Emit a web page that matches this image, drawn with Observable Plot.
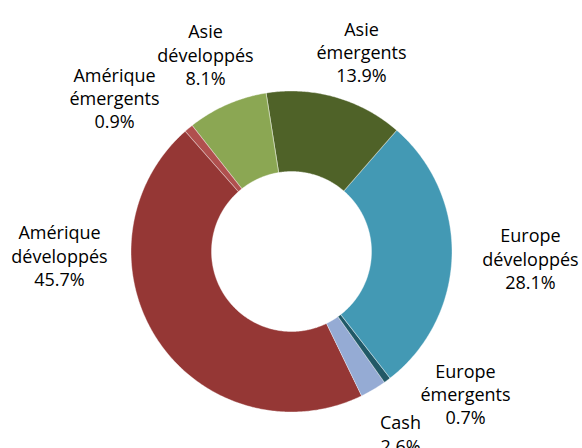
<!DOCTYPE html>
<html>
<head>
<meta charset="utf-8">
<script src="https://cdn.jsdelivr.net/npm/d3@7"></script>
<script src="https://cdn.jsdelivr.net/npm/@observablehq/plot@0.6"></script>
<style>
  html, body { margin: 0; padding: 0; background: #fff; }
  #chart svg { display: block; }
</style>
</head>
<body>
<div id="chart"></div>
<script>
// Data
const names = ["Amérique développés", "Amérique émergents", "Asie développés", "Asie émergents", "Europe développés", "Europe émergents", "Cash"];
const labelLines = ["Amérique\ndéveloppés", "Amérique\némergents", "Asie\ndéveloppés", "Asie\némergents", "Europe\ndéveloppés", "Europe\némergents", "Cash"];
const values = [45.7, 0.9, 8.1, 13.9, 28.1, 0.7, 2.6];
const colors = ["#953735", "#b0504e", "#8ba753", "#4f6228", "#4399b4", "#215967", "#95abd4"];
// label anchor points in pixels (layout)
const labelPx = [[59, 222], [114, 64.5], [205, 21], [361, 18.5], [530, 225], [465, 360.5], [400, 412]];

// Layout
const W = 582, H = 448;
const cx = 291, cy = 251, R = 160.5, rInner = 80 / 160.5;
const startDeg = 154.1;

const pie = d3.pie().sort(null).value(d => d.value)
  .startAngle(startDeg * Math.PI / 180)
  .endAngle(startDeg * Math.PI / 180 + 2 * Math.PI);
const arcs = pie(names.map((n, i) => ({name: n, value: values[i]})));

const pts = [];
arcs.forEach(a => {
  const n = Math.max(4, Math.ceil((a.endAngle - a.startAngle) / 0.01));
  for (let k = 0; k <= n; k++) {
    const t = a.startAngle + (a.endAngle - a.startAngle) * k / n;
    pts.push({name: a.data.name, x: Math.sin(t), y: Math.cos(t)});
  }
  for (let k = n; k >= 0; k--) {
    const t = a.startAngle + (a.endAngle - a.startAngle) * k / n;
    pts.push({name: a.data.name, x: rInner * Math.sin(t), y: rInner * Math.cos(t)});
  }
});

const xDom = [-cx / R, (W - cx) / R];
const yDom = [-(H - cy) / R, cy / R];
const labels = names.map((n, i) => ({
  text: labelLines[i] + "\n" + values[i].toFixed(1) + "%",
  x: xDom[0] + labelPx[i][0] / R,
  y: yDom[1] - labelPx[i][1] / R
}));

const chart = Plot.plot({
  width: W, height: H,
  margin: 0,
  x: {domain: xDom, axis: null},
  y: {domain: yDom, axis: null},
  color: {domain: names, range: colors},
  style: {fontFamily: "'Open Sans', sans-serif", background: "#fff", overflow: "visible"},
  marks: [
    Plot.line(pts, {x: "x", y: "y", z: "name", fill: "name", stroke: "#fff", strokeWidth: 0.4, curve: "linear-closed"}),
    Plot.text(labels, {x: "x", y: "y", text: "text", fontSize: 18, lineHeight: 1.3, lineAnchor: "top", textAnchor: "middle", fill: "#000"})
  ]
});
document.getElementById("chart").appendChild(chart);
</script>
</body>
</html>
